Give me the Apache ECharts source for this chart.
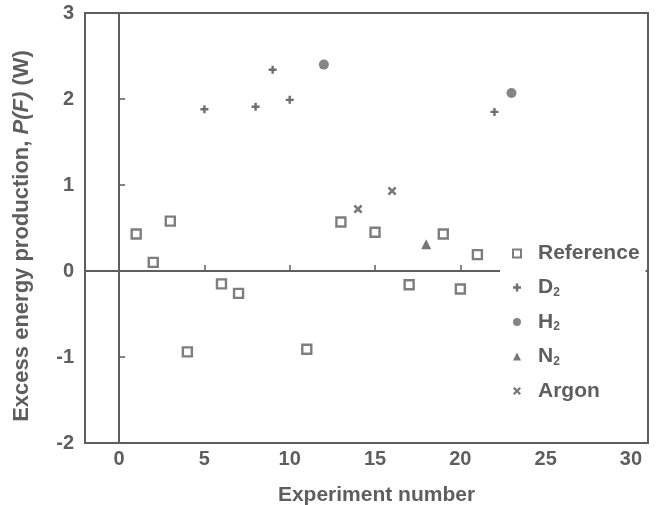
<!DOCTYPE html>
<html>
<head>
<meta charset="utf-8">
<script src="https://cdn.jsdelivr.net/npm/echarts@6/dist/echarts.min.js"></script>
<style>html,body{margin:0;padding:0;background:#fff}#c{width:656px;height:505px}</style>
</head>
<body>
<div id="c"></div>
<script>
// Data
var xTicks = [0, 5, 10, 15, 20, 25, 30];
var yTicks = [-2, -1, 0, 1, 2, 3];
var refX = [1, 2, 3, 4, 6, 7, 11, 13, 15, 17, 19, 20, 21];
var refY = [0.43, 0.10, 0.58, -0.94, -0.15, -0.26, -0.91, 0.57, 0.45, -0.16, 0.43, -0.21, 0.19];
var d2X = [5, 8, 9, 10, 22];
var d2Y = [1.88, 1.91, 2.34, 1.99, 1.85];
var h2X = [12, 23];
var h2Y = [2.40, 2.07];
var n2X = [18];
var n2Y = [0.31];
var arX = [14, 16];
var arY = [0.72, 0.93];

function pairs(xs, ys) { return xs.map(function (x, i) { return [x, ys[i]]; }); }

var C = '#5e5e5e';
var FONT = 'Liberation Sans';
var plus = 'path://M3.5,0 L6.5,0 L6.5,3.5 L10,3.5 L10,6.5 L6.5,6.5 L6.5,10 L3.5,10 L3.5,6.5 L0,6.5 L0,3.5 L3.5,3.5 Z';
var cross = 'path://M0,2 L2,0 L5,3 L8,0 L10,2 L7,5 L10,8 L8,10 L5,7 L2,10 L0,8 L3,5 Z';

var chart = echarts.init(document.getElementById('c'), null, {renderer: 'canvas'});
chart.setOption({
  animation: false,
  backgroundColor: '#fff',
  grid: {left: 85, right: 8, top: 13, bottom: 62, outerBoundsMode: 'none', containLabel: false,
         show: true, borderColor: C, borderWidth: 2, backgroundColor: 'transparent'},
  xAxis: {
    type: 'value', min: -2, max: 31,
    name: 'Experiment number', nameLocation: 'middle', nameGap: 42,
    nameTextStyle: {fontFamily: FONT, fontSize: 21, color: C, fontWeight: 'bold', padding: [0, 0, 0, 20]},
    axisLine: {show: false},
    splitLine: {show: false},
    axisTick: {show: true, inside: true, length: 6, lineStyle: {color: C, width: 1.5}, customValues: xTicks},
    axisLabel: {margin: 6, fontFamily: FONT, fontSize: 20, fontWeight: 'bold', color: C, customValues: xTicks}
  },
  yAxis: {
    type: 'value', min: -2, max: 3, interval: 1,
    name: '{a|Excess energy production, }{i|P(F)}{a| (W)}', nameLocation: 'middle', nameGap: 52, nameRotate: 90,
    nameTextStyle: {
      fontFamily: FONT, fontSize: 22, color: C, fontWeight: 'bold', padding: [0, 0, 0, -16],
      rich: {
        a: {fontFamily: FONT, fontSize: 22, color: C, fontWeight: 'bold'},
        i: {fontFamily: FONT, fontSize: 22, color: C, fontWeight: 'bold', fontStyle: 'italic'}
      }
    },
    axisLine: {show: false},
    splitLine: {show: false},
    axisTick: {show: true, inside: true, length: 6, lineStyle: {color: C, width: 1.5}},
    axisLabel: {margin: 11, fontFamily: FONT, fontSize: 20, fontWeight: 'bold', color: C, customValues: yTicks}
  },
  legend: {
    orient: 'vertical', left: 500, top: 237, z: 50, zlevel: 1,
    backgroundColor: '#fff',
    padding: [6, 6, 8, 12],
    itemGap: 13, itemWidth: 8, itemHeight: 8,
    textStyle: {
      fontFamily: FONT, fontSize: 21, color: C, fontWeight: 'bold', padding: [0, 0, 0, 12],
      rich: {
        n: {fontFamily: FONT, fontSize: 21, color: C, fontWeight: 'bold'},
        s: {fontFamily: FONT, fontSize: 12, color: C, fontWeight: 'bold', padding: [10, 0, 0, 0]}
      }
    },
    formatter: function (name) {
      var m = name.match(/^([A-Z])2$/);
      return m ? '{n|' + m[1] + '}{s|2}' : '{n|' + name + '}';
    },
    data: ['Reference', 'D2', 'H2', 'N2', 'Argon']
  },
  series: [
    {
      name: 'Reference', type: 'scatter', symbol: 'rect', symbolSize: 9,
      itemStyle: {color: '#fff', borderColor: C, borderWidth: 2.4},
      data: pairs(refX, refY),
      markLine: {
        silent: true, symbol: 'none', label: {show: false},
        lineStyle: {color: C, width: 2, type: 'solid'},
        data: [{xAxis: 0}, {yAxis: 0}]
      }
    },
    {name: 'D2', type: 'scatter', symbol: plus, symbolSize: 8, itemStyle: {color: '#4a4a4a'}, data: pairs(d2X, d2Y)},
    {name: 'H2', type: 'scatter', symbol: 'circle', symbolSize: 10, itemStyle: {color: '#666'}, data: pairs(h2X, h2Y)},
    {name: 'N2', type: 'scatter', symbol: 'triangle', symbolSize: 10, itemStyle: {color: '#555'}, data: pairs(n2X, n2Y)},
    {name: 'Argon', type: 'scatter', symbol: cross, symbolSize: 9, itemStyle: {color: '#555'}, data: pairs(arX, arY)}
  ]
});
</script>
</body>
</html>
